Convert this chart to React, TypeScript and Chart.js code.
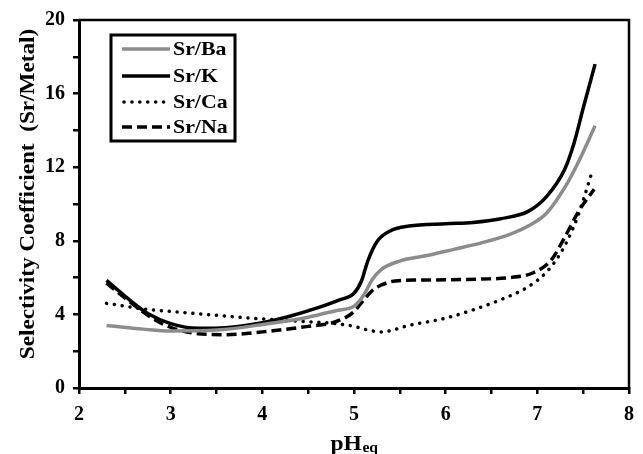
import React, { useEffect, useRef } from 'react';
import { Chart, registerables } from 'chart.js';
Chart.register(...registerables);

const seriesNames = ['Sr/Ba', 'Sr/K', 'Sr/Ca', 'Sr/Na'];

const baX = [2.3, 2.7, 3.0, 3.5, 4.0, 4.5, 4.8, 5.0, 5.1, 5.2, 5.3, 5.5, 5.8, 6.1, 6.4, 6.7, 6.9, 7.1, 7.3, 7.45, 7.63];
const baY = [3.4, 3.2, 3.1, 3.15, 3.45, 3.85, 4.2, 4.45, 5.0, 5.9, 6.45, 6.9, 7.2, 7.55, 7.9, 8.35, 8.8, 9.5, 10.9, 12.3, 14.25];

const kX = [2.3, 2.5, 2.75, 3.0, 3.3, 3.6, 4.0, 4.3, 4.6, 4.85, 5.0, 5.08, 5.15, 5.25, 5.4, 5.6, 6.0, 6.3, 6.6, 6.9, 7.1, 7.3, 7.4, 7.5, 7.63];
const kY = [5.85, 5.0, 4.05, 3.5, 3.25, 3.28, 3.55, 3.9, 4.35, 4.8, 5.15, 5.8, 6.9, 7.95, 8.55, 8.8, 8.93, 9.0, 9.2, 9.6, 10.4, 11.9, 13.3, 15.2, 17.6];

const caX = [2.3, 2.7, 3.1, 3.5, 4.0, 4.5, 4.8, 5.0, 5.15, 5.3, 5.6, 6.0, 6.3, 6.6, 6.9, 7.1, 7.25, 7.4, 7.5, 7.6];
const caY = [4.6, 4.3, 4.12, 3.95, 3.75, 3.6, 3.5, 3.35, 3.15, 3.05, 3.4, 3.8, 4.25, 4.8, 5.5, 6.3, 7.3, 8.8, 10.2, 11.8];

const naX = [2.3, 2.5, 2.75, 3.0, 3.3, 3.6, 4.0, 4.5, 4.8, 5.0, 5.1, 5.2, 5.3, 5.45, 5.7, 6.0, 6.4, 6.7, 6.95, 7.15, 7.3, 7.45, 7.62];
const naY = [5.7, 4.9, 3.95, 3.3, 2.95, 2.9, 3.05, 3.35, 3.6, 4.15, 4.75, 5.3, 5.6, 5.82, 5.87, 5.88, 5.92, 6.0, 6.25, 6.95, 8.2, 9.6, 10.8];

const xTickLabels = [2, 3, 4, 5, 6, 7, 8];
const yTickLabels = [0, 4, 8, 12, 16, 20];
const yTitle = 'Selectivity Coefficient  (Sr/Metal)';
const xTitleMain = 'pH';
const xTitleSub = 'eq';

const FONT = "'Liberation Serif', 'Times New Roman', serif";

function pts(xs: number[], ys: number[]) {
  return xs.map((x, i) => ({ x, y: ys[i] }));
}

const framePlugin = {
  id: 'frameAndText',
  afterDraw(chart: any) {
    const { ctx, chartArea: a } = chart;
    ctx.save();
    ctx.strokeStyle = '#000';
    ctx.lineWidth = 2.5;
    ctx.beginPath();
    ctx.moveTo(a.left, a.top);
    ctx.lineTo(a.right, a.top);
    ctx.lineTo(a.right, a.bottom);
    ctx.stroke();
    ctx.restore();

    // y title
    ctx.save();
    ctx.fillStyle = '#000';
    ctx.font = `bold 20px ${FONT}`;
    ctx.translate(29, 194);
    ctx.rotate(-Math.PI / 2);
    ctx.scale(1.16, 1);
    ctx.textAlign = 'center';
    ctx.textBaseline = 'middle';
    ctx.fillText(yTitle, 0, 0);
    ctx.restore();

    // x title
    ctx.save();
    ctx.fillStyle = '#000';
    const sx = 1.12;
    ctx.font = `bold 21px ${FONT}`;
    const w1 = ctx.measureText(xTitleMain).width;
    ctx.font = `bold 14px ${FONT}`;
    const w2 = ctx.measureText(xTitleSub).width;
    const cx = (a.left + a.right) / 2;
    ctx.translate(cx - ((w1 + w2) * sx) / 2, 450);
    ctx.scale(sx, 1);
    ctx.textBaseline = 'alphabetic';
    ctx.textAlign = 'left';
    ctx.font = `bold 21px ${FONT}`;
    ctx.fillText(xTitleMain, 0, 0);
    ctx.font = `bold 14px ${FONT}`;
    ctx.fillText(xTitleSub, w1 + 0.5, 2);
    ctx.restore();

    // legend
    ctx.save();
    ctx.strokeStyle = '#000';
    ctx.lineWidth = 3;
    ctx.strokeRect(111, 35, 124, 106);
    const rows = [49, 76, 102, 127];
    chart.data.datasets.forEach((ds: any, i: number) => {
      const y = rows[i];
      ctx.save();
      ctx.strokeStyle = ds.borderColor;
      ctx.lineWidth = ds.borderWidth;
      ctx.setLineDash(ds.borderDash || []);
      ctx.lineCap = ds.borderCapStyle || 'butt';
      ctx.beginPath();
      ctx.moveTo(i === 2 ? 124 : 122, y);
      ctx.lineTo(170, y);
      ctx.stroke();
      ctx.restore();
      ctx.save();
      ctx.fillStyle = '#000';
      ctx.font = `bold 19px ${FONT}`;
      ctx.textBaseline = 'middle';
      ctx.translate(173, y + 1);
      ctx.scale(1.15, 1);
      ctx.fillText(ds.label, 0, 0);
      ctx.restore();
    });
    ctx.restore();
  },
};

export default function App() {
  const ref = useRef<HTMLCanvasElement>(null);
  useEffect(() => {
    if (!ref.current) return;
    const chart = new Chart(ref.current, {
      type: 'scatter',
      data: {
        datasets: [
          {
            label: seriesNames[0],
            data: pts(baX, baY),
            showLine: true,
            borderColor: '#8c8c8c',
            borderWidth: 3.5,
            pointRadius: 0,
            cubicInterpolationMode: 'monotone',
          },
          {
            label: seriesNames[1],
            data: pts(kX, kY),
            showLine: true,
            borderColor: '#000000',
            borderWidth: 3.5,
            pointRadius: 0,
            cubicInterpolationMode: 'monotone',
          },
          {
            label: seriesNames[2],
            data: pts(caX, caY),
            showLine: true,
            borderColor: '#000000',
            borderWidth: 3.5,
            borderDash: [0.1, 7.8],
            borderCapStyle: 'round',
            pointRadius: 0,
            cubicInterpolationMode: 'monotone',
          },
          {
            label: seriesNames[3],
            data: pts(naX, naY),
            showLine: true,
            borderColor: '#000000',
            borderWidth: 3.5,
            borderDash: [10, 5],
            borderCapStyle: 'butt',
            pointRadius: 0,
            cubicInterpolationMode: 'monotone',
          },
        ] as any,
      },
      options: {
        animation: false,
        responsive: false,
        devicePixelRatio: 1,
        layout: { padding: { left: 0, right: 5, top: 20, bottom: 0 } },
        plugins: { legend: { display: false }, tooltip: { enabled: false } },
        scales: {
          x: {
            type: 'linear',
            min: 2,
            max: 8,
            afterFit: (s: any) => {
              s.height = 66;
            },
            border: { display: true, color: '#000', width: 3 },
            grid: { drawOnChartArea: false, drawTicks: true, tickLength: 6, color: '#000', lineWidth: 2.5 },
            ticks: {
              stepSize: 0.5,
              color: '#000',
              padding: 9,
              maxRotation: 0,
              autoSkip: false,
              font: { family: FONT, size: 20, weight: 'bold' },
              callback: (v: any) => (xTickLabels.includes(v) ? String(v) : ''),
            },
          },
          y: {
            type: 'linear',
            min: 0,
            max: 20,
            afterFit: (s: any) => {
              s.width = 79;
            },
            border: { display: true, color: '#000', width: 3 },
            grid: { drawOnChartArea: false, drawTicks: true, tickLength: 6, color: '#000', lineWidth: 2.5 },
            ticks: {
              stepSize: 2,
              color: '#000',
              padding: 8,
              autoSkip: false,
              font: { family: FONT, size: 20, weight: 'bold' },
              callback: (v: any) => (yTickLabels.includes(v) ? String(v) : ''),
            },
          },
        },
      },
      plugins: [framePlugin],
    });
    return () => chart.destroy();
  }, []);
  return (
    <div style={{ position: 'fixed', left: 0, top: 0, width: 643, height: 454, background: '#fff' }}>
      <canvas ref={ref} width={643} height={454} style={{ width: 643, height: 454 }} />
    </div>
  );
}
